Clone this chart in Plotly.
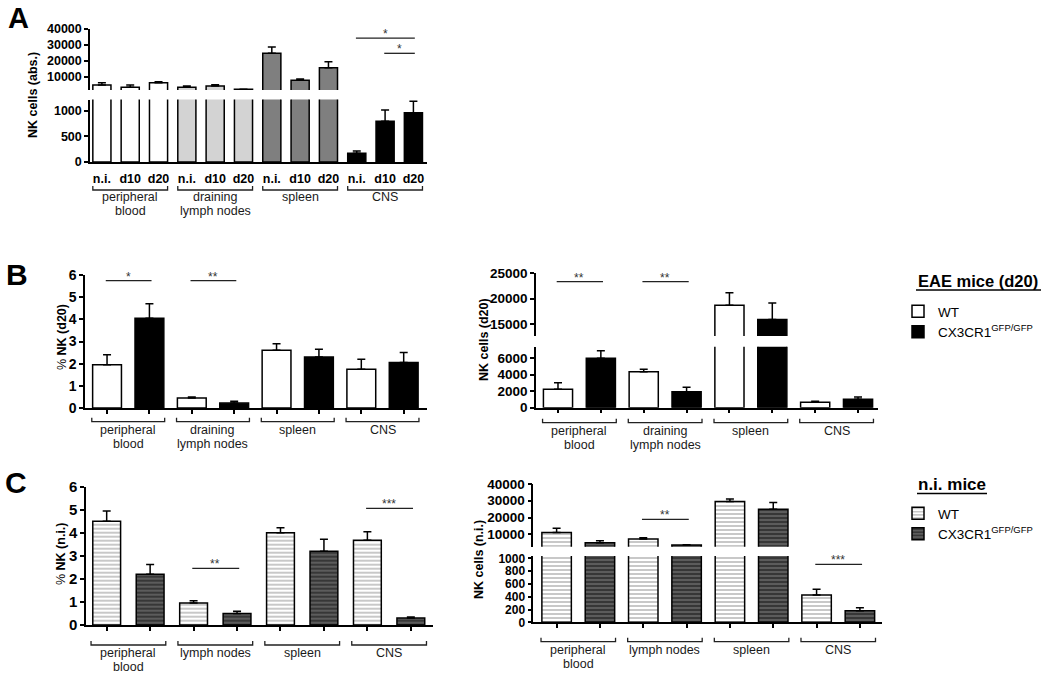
import plotly.graph_objects as go

W, H = 1050, 676
FONT = "Liberation Sans"

# ---------------- data ----------------
# Panel A: absolute NK cell numbers during EAE
A_tissues = ["peripheral<br>blood", "draining<br>lymph nodes", "spleen", "CNS"]
A_timepoints = ["n.i.", "d10", "d20"]
A_mean = [5000, 3600, 6450, 3550, 4400, 2300, 24800, 7900, 15800, 170, 800, 965]
A_err = [1400, 1400, 600, 800, 800, 100, 3950, 850, 3800, 45, 220, 225]

# Panel B: EAE mice (d20)
B_tissues = ["peripheral<br>blood", "draining<br>lymph nodes", "spleen", "CNS"]
B_pct_WT = [1.95, 0.45, 2.6, 1.75]
B_pct_WT_err = [0.45, 0.05, 0.3, 0.45]
B_pct_KO = [4.05, 0.22, 2.3, 2.05]
B_pct_KO_err = [0.65, 0.08, 0.35, 0.45]
B_abs_WT = [2230, 4360, 18700, 650]
B_abs_WT_err = [800, 290, 2450, 125]
B_abs_KO = [5990, 1940, 15900, 1020]
B_abs_KO_err = [910, 530, 3250, 280]

# Panel C: non-immunized mice
C_tissues = ["peripheral<br>blood", "lymph nodes", "spleen", "CNS"]
C_pct_WT = [4.5, 0.95, 4.0, 3.68]
C_pct_WT_err = [0.45, 0.1, 0.22, 0.37]
C_pct_KO = [2.2, 0.5, 3.2, 0.3]
C_pct_KO_err = [0.42, 0.1, 0.52, 0.05]
C_abs_WT = [11000, 7200, 29500, 427]
C_abs_WT_err = [2600, 800, 1500, 88]
C_abs_KO = [5000, 3600, 25000, 181]
C_abs_KO_err = [1200, 200, 4000, 47]

series_names = ["WT", "CX3CR1<sup>GFP/GFP</sup>"]

# significance: (bar i, bar j, height, label)
A_sig = [(9, 11, 34300, "*"), (10, 11, 24800, "*")]
B_pct_sig = [(0, 1, 5.75, "*"), (2, 3, 5.75, "**")]
B_abs_sig = [(0, 1, 23350, "**"), (2, 3, 23350, "**")]
C_pct_sig = [(2, 3, 2.46, "**"), (6, 7, 5.06, "***")]
C_abs_sig_top = [(2, 3, 18950, "**")]
C_abs_sig_bot = [(6, 7, 906, "***")]

# ---------------- helpers ----------------
def PX(p):
    return p / W


def PY(p):
    return 1 - p / H


def ydom(top, bot):
    return [PY(bot), PY(top)]


def xdom(l, r):
    return [PX(l), PX(r)]


fig = go.Figure()

ERR = dict(type="data", symmetric=False, color="black", thickness=1.5, width=4)


def add_bars(x, y, err, xa, ya, color, width, pattern=None, name="", legend="legend", show=False):
    marker = dict(color=color, line=dict(color="black", width=1.5))
    if pattern:
        marker["pattern"] = pattern
    fig.add_trace(go.Bar(
        x=x, y=y, xaxis=xa, yaxis=ya, width=width, marker=marker,
        error_y=dict(ERR, array=err, arrayminus=[0] * len(err)),
        name=name, showlegend=show, legend=legend, hoverinfo="skip"))


A_fill = ["white", "#d3d3d3", "#7f7f7f", "black"]
colorsA = [A_fill[g] for g in range(len(A_tissues)) for _ in A_timepoints]
xA = list(range(len(A_mean)))
add_bars(xA, A_mean, A_err, "x", "y", colorsA, 0.64)
add_bars(xA, A_mean, A_err, "x", "y2", colorsA, 0.64)

wt_x = [2 * g for g in range(4)]
ko_x = [2 * g + 1 for g in range(4)]

# B left
add_bars(wt_x, B_pct_WT, B_pct_WT_err, "x2", "y3", "white", 0.68, name=series_names[0], show=True)
add_bars(ko_x, B_pct_KO, B_pct_KO_err, "x2", "y3", "black", 0.68, name=series_names[1], show=True)
# B right (broken axis)
for ya in ("y4", "y5"):
    add_bars(wt_x, B_abs_WT, B_abs_WT_err, "x3", ya, "white", 0.68)
    add_bars(ko_x, B_abs_KO, B_abs_KO_err, "x3", ya, "black", 0.68)

pat_wt = dict(shape="-", fgcolor="#606060", bgcolor="white", size=4, solidity=0.35)
pat_ko = dict(shape="-", fgcolor="#111111", bgcolor="#5c5c5c", size=4, solidity=0.5)
# C left
add_bars(wt_x, C_pct_WT, C_pct_WT_err, "x4", "y6", "white", 0.64, pattern=pat_wt,
         name=series_names[0], legend="legend2", show=True)
add_bars(ko_x, C_pct_KO, C_pct_KO_err, "x4", "y6", "#5c5c5c", 0.64, pattern=pat_ko,
         name=series_names[1], legend="legend2", show=True)
# C right (broken axis)
for ya in ("y7", "y8"):
    add_bars(wt_x, C_abs_WT, C_abs_WT_err, "x5", ya, "white", 0.68, pattern=pat_wt)
    add_bars(ko_x, C_abs_KO, C_abs_KO_err, "x5", ya, "#5c5c5c", 0.68, pattern=pat_ko)

# ---------------- axes ----------------
line = dict(showline=True, linecolor="black", linewidth=1.5, showgrid=False, zeroline=False,
            ticks="outside", ticklen=4, tickwidth=1.5, tickcolor="black", fixedrange=True,
            automargin=False)


def yax(dom, rng, tickvals, anchor, size):
    return dict(line, domain=dom, range=rng, tickvals=tickvals, anchor=anchor, tickformat="d",
                tickfont=dict(family=FONT, size=size, color="black", weight="bold"))


def xax(dom, rng, n, anchor, labels=None):
    d = dict(line, domain=dom, range=rng, tickvals=list(range(n)), anchor=anchor)
    if labels:
        d.update(ticktext=labels, showticklabels=True, tickcolor="rgba(0,0,0,0)",
                 tickfont=dict(family=FONT, size=12.5, color="black", weight="bold"))
    else:
        d.update(showticklabels=False)
    return d


layout = dict(
    width=W, height=H, margin=dict(l=0, r=0, t=0, b=0, pad=0, autoexpand=False),
    paper_bgcolor="white", plot_bgcolor="white", barmode="overlay",
    font=dict(family=FONT, color="black"),
    xaxis=xax(xdom(90, 427), [-0.42, 11.48], 12, "y", A_timepoints * len(A_tissues)),
    yaxis=yax(ydom(99.5, 162), [0, 1225], [0, 500, 1000], "x", 12.5),
    yaxis2=yax(ydom(29, 90), [1875, 40000], [10000, 20000, 30000, 40000], "x", 12.5),
    xaxis2=xax(xdom(85, 427), [-0.52, 7.55], 8, "y3"),
    yaxis3=yax(ydom(275, 408), [0, 6], [0, 1, 2, 3, 4, 5, 6], "x2", 14),
    xaxis3=xax(xdom(536, 878), [-0.513, 7.466], 8, "y4"),
    yaxis4=yax(ydom(346.7, 407.7), [0, 7400], [0, 2000, 4000, 6000], "x3", 13.5),
    yaxis5=yax(ydom(273.3, 336), [12650, 25000], [15000, 20000, 25000], "x3", 13.5),
    xaxis4=xax(xdom(86, 433), [-0.476, 7.51], 8, "y6"),
    yaxis6=yax(ydom(486.7, 625), [0, 6], [0, 1, 2, 3, 4, 5, 6], "x4", 15),
    xaxis5=xax(xdom(533.3, 881.7), [-0.538, 7.503], 8, "y7"),
    yaxis7=yax(ydom(556, 622.3), [0, 1036], [0, 200, 400, 600, 800, 1000], "x5", 12),
    yaxis8=yax(ydom(484, 546.7), [2600, 40000], [10000, 20000, 30000, 40000], "x5", 13.5),
    legend=dict(x=PX(898), y=PY(296), xanchor="left", yanchor="top", bgcolor="rgba(0,0,0,0)",
                font=dict(family=FONT, size=13.5, color="black"), tracegroupgap=0,
                traceorder="normal", itemclick=False, itemdoubleclick=False),
    legend2=dict(x=PX(898), y=PY(498), xanchor="left", yanchor="top", bgcolor="rgba(0,0,0,0)",
                 font=dict(family=FONT, size=13.5, color="black"), tracegroupgap=0,
                 traceorder="normal", itemclick=False, itemdoubleclick=False),
)
fig.update_layout(**layout)

# ---------------- annotations & shapes ----------------
ann = []
shapes = []


def text(x, y, s, size, xref="paper", yref="paper", angle=0, color="black",
         xanchor="center", yanchor="middle", **kw):
    ann.append(dict(x=x, y=y, xref=xref, yref=yref, text=s, showarrow=False, textangle=angle,
                    xanchor=xanchor, yanchor=yanchor,
                    font=dict(family=FONT, size=size, color=color), **kw))


# panel letters
text(PX(18), PY(0), "<b>A</b>", 29, yanchor="top")
text(PX(16.5), PY(274), "<b>B</b>", 30)
text(PX(16), PY(482), "<b>C</b>", 30)

# y titles
text(PX(33), PY(95), "<b>NK cells (abs.)</b>", 12.5, angle=-90)
text(PX(62), PY(337), "% <b>NK (d20)</b>", 12.5, angle=-90)
text(PX(484), PY(340), "<b>NK cells (d20)</b>", 12.5, angle=-90)
text(PX(479), PY(560), "<b>NK cells (n.i.)</b>", 12.5, angle=-90)
text(PX(61), PY(554), "% <b>NK (n.i.)</b>", 12.5, angle=-90)


def groups(xref, labels, members, ybr, yline1, half, gap=14):
    for lab, mem in zip(labels, members):
        x0, x1 = min(mem) - half, max(mem) + half
        yb, yt = PY(ybr), PY(ybr - 4)
        shapes.append(dict(type="path", xref=xref, yref="paper",
                           path=f"M{x0},{yt} L{x0},{yb} L{x1},{yb} L{x1},{yt}",
                           line=dict(color="#222", width=1.3)))
        for k, part in enumerate(lab.split("<br>")):
            text(sum(mem) / len(mem), PY(yline1 + k * gap), part, 12.5, xref=xref,
                 color="#1a1a1a")


memA = [[3 * g, 3 * g + 1, 3 * g + 2] for g in range(4)]
memB = [[2 * g, 2 * g + 1] for g in range(4)]
groups("x", A_tissues, memA, 190, 196.7, 0.32)
groups("x2", B_tissues, memB, 421.7, 430, 0.36)
groups("x3", B_tissues, memB, 422.7, 430.7, 0.36)
groups("x4", C_tissues, memB, 645, 653.3, 0.36)
groups("x5", C_tissues, memB, 641.7, 650, 0.36, gap=13.5)


def sig(xref, yref, items):
    for i, j, h, lab in items:
        shapes.append(dict(type="line", xref=xref, yref=yref, x0=i - 0.03, x1=j + 0.05, y0=h, y1=h,
                           line=dict(color="#222", width=1.3)))
        text((i + j) / 2, h, lab, 12, xref=xref, yref=yref, color="#333",
             yanchor="bottom", yshift=-5)


sig("x", "y2", A_sig)
sig("x2", "y3", B_pct_sig)
sig("x3", "y5", B_abs_sig)
sig("x4", "y6", C_pct_sig)
sig("x5", "y8", C_abs_sig_top)
sig("x5", "y7", C_abs_sig_bot)

# legend titles (underlined)
text(PX(978), PY(281), "<b>EAE mice (d20)</b>", 16.5)
shapes.append(dict(type="line", xref="paper", yref="paper", x0=PX(916), x1=PX(1041),
                   y0=PY(290), y1=PY(290), line=dict(color="black", width=1.3)))
text(PX(952), PY(485), "<b>n.i. mice</b>", 17)
shapes.append(dict(type="line", xref="paper", yref="paper", x0=PX(917), x1=PX(987),
                   y0=PY(493.5), y1=PY(493.5), line=dict(color="black", width=1.3)))

fig.update_layout(annotations=ann, shapes=shapes)
fig.write_html("out.html", config={"displayModeBar": False},
               post_script="document.body.style.margin='0';")
